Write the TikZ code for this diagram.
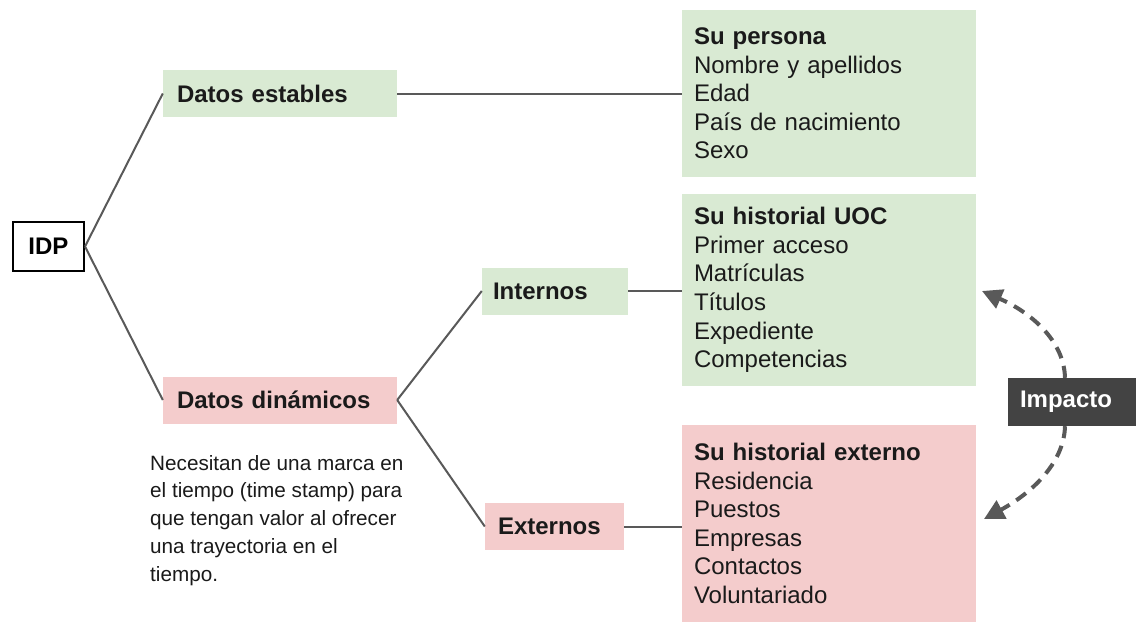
\documentclass[tikz,border=0pt]{standalone}
\usepackage{fontspec}
\setmainfont{Liberation Sans}
\usetikzlibrary{arrows.meta}
\definecolor{boxgreen}{HTML}{D9EAD3}
\definecolor{boxpink}{HTML}{F4CCCC}
\definecolor{impfill}{HTML}{434343}
\definecolor{linegray}{HTML}{595959}
\definecolor{txt}{HTML}{1A1A1A}
\tikzset{
  big/.style={font=\fontsize{24}{28.6}\selectfont\color{txt}},
  catbox/.style={big, font=\fontsize{24}{28.6}\selectfont\bfseries\color{txt}, align=left, inner ysep=0pt, minimum height=47pt},
  listbox/.style={big, align=left, inner xsep=12pt, inner ysep=0pt, text width=270pt, minimum width=294pt},
  conn/.style={draw=linegray, line width=2pt},
  impact/.style={draw=linegray, line width=4pt, dash pattern=on 12pt off 8pt, -{Triangle[length=20pt,width=20pt]}}
}
\begin{document}
\begin{tikzpicture}[x=1pt,y=-1pt]
\useasboundingbox (0,0) rectangle (1136,624);
\fill[white] (0,0) rectangle (1136,624);

\node[draw=black, line width=2pt, minimum width=71pt, minimum height=49pt, inner sep=0pt, font=\fontsize{24}{28}\selectfont\bfseries] (idp) at (48.5,246.5) {IDP};

\node[catbox, fill=boxgreen, inner xsep=14pt, text width=206pt] (est) at (280,93.5) {Datos estables};
\node[catbox, fill=boxpink, inner xsep=14pt, text width=206pt] (din) at (280,400) {Datos dinámicos};
\node[catbox, fill=boxgreen, inner xsep=11pt, text width=124pt] (int) at (555,291) {Internos};
\node[catbox, fill=boxpink, inner xsep=13pt, text width=113pt] (ext) at (554.5,526.5) {Externos};

\node[listbox, fill=boxgreen, minimum height=167pt] (per) at (829,93.5) {\textbf{Su persona}\\Nombre y apellidos\\Edad\\País de nacimiento\\Sexo};
\node[listbox, fill=boxgreen, minimum height=192pt] (uoc) at (829,290) {\textbf{Su historial UOC}\\Primer acceso\\Matrículas\\Títulos\\Expediente\\Competencias};
\node[listbox, fill=boxpink, minimum height=197pt] (hext) at (829,523.5) {\textbf{Su historial externo}\\Residencia\\Puestos\\Empresas\\Contactos\\Voluntariado};

\node[fill=impfill, minimum width=128pt, minimum height=48pt, inner xsep=12pt, text width=104pt, align=left, font=\fontsize{24}{28}\selectfont\bfseries\color{white}] (imp) at (1072,402) {Impacto};

\node[anchor=north west, inner sep=0pt, align=left, font=\fontsize{20.7}{27.7}\selectfont\color{txt}] (note) at (150,455) {Necesitan de una marca en\\el tiempo (time stamp) para\\que tengan valor al ofrecer\\una trayectoria en el\\tiempo.};

\draw[conn] (idp.east) -- (est.west);
\draw[conn] (idp.east) -- (din.west);
\draw[conn] (est.east) -- (est.east -| per.west);
\draw[conn] (din.east) -- (int.west);
\draw[conn] (din.east) -- (ext.west);
\draw[conn] (int.east) -- (int.east -| uoc.west);
\draw[conn] (ext.east) -- (ext.east -| hext.west);

\coordinate (s1) at ([xshift=-7pt]imp.north);
\coordinate (s2) at ([xshift=-7pt]imp.south);
\coordinate (t1) at (982,291);
\coordinate (t2) at (984,519);
\draw[impact] (s1) .. controls (1064,340) and (1030,312) .. (t1);
\draw[impact] (s2) .. controls (1064,464) and (1030,494) .. (t2);
\end{tikzpicture}
\end{document}
